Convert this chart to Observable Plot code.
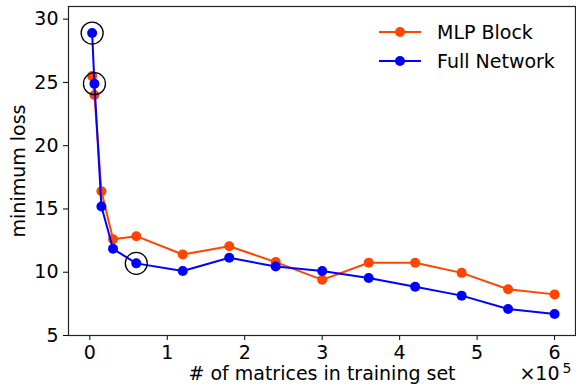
<!DOCTYPE html>
<html>
<head>
<meta charset="utf-8">
<script src="https://cdn.jsdelivr.net/npm/d3@7"></script>
<script src="https://cdn.jsdelivr.net/npm/@observablehq/plot@0.6"></script>
<style>
  html, body { margin: 0; padding: 0; background: white; }
  #chart svg, #chart svg text { font-family: "DejaVu Sans", sans-serif; }
</style>
</head>
<body>
<div id="chart"></div>
<script>
const trainSize = [3000, 6000, 15000, 30000, 60000, 120000, 180000, 240000, 300000, 360000, 420000, 480000, 540000, 600000];
const mlpBlock = [25.5, 24.0, 16.4, 12.6, 12.85, 11.4, 12.05, 10.8, 9.4, 10.75, 10.75, 9.95, 8.65, 8.25];
const fullNetwork = [28.9, 24.9, 15.2, 11.85, 10.7, 10.1, 11.15, 10.45, 10.1, 9.55, 8.85, 8.15, 7.1, 6.7];
const circledIdx = [0, 1, 4];
const xTicks = [0, 100000, 200000, 300000, 400000, 500000, 600000];
const yTicks = [5, 10, 15, 20, 25, 30];
const seriesNames = ["MLP Block", "Full Network"];
const colors = ["#ff4500", "#0000ff"];

const mlp = trainSize.map((x, i) => ({x, y: mlpBlock[i]}));
const full = trainSize.map((x, i) => ({x, y: fullNetwork[i]}));
const circled = circledIdx.map(i => full[i]);

const fs = 19;
const chart = Plot.plot({
  width: 576,
  height: 390,
  marginLeft: 68,
  marginRight: 1,
  marginTop: 6,
  marginBottom: 55,
  style: {fontFamily: "DejaVu Sans, sans-serif", background: "white", fontSize: fs + "px"},
  x: {domain: [-27500, 627000]},
  y: {domain: [5, 31]},
  marks: [
    Plot.axisX({ticks: xTicks, tickFormat: d => String(d / 1e5), tickSize: 5, tickPadding: 5, fontSize: fs, label: null, stroke: "black", color: "black"}),
    Plot.axisY({ticks: yTicks, tickSize: 5, tickPadding: 5, fontSize: fs, label: null, stroke: "black", color: "black"}),
    Plot.line(mlp, {x: "x", y: "y", stroke: colors[0], strokeWidth: 2}),
    Plot.dot(mlp, {x: "x", y: "y", r: 5, fill: colors[0], stroke: "none"}),
    Plot.line(full, {x: "x", y: "y", stroke: colors[1], strokeWidth: 2}),
    Plot.dot(full, {x: "x", y: "y", r: 5, fill: colors[1], stroke: "none"}),
    Plot.dot(circled, {x: "x", y: "y", r: 11, fill: "none", stroke: "black", strokeWidth: 1.3}),
    Plot.frame({stroke: "#222", strokeWidth: 1.2}),
    Plot.text(["# of matrices in training set"], {frameAnchor: "bottom", dy: 44, textAnchor: "middle", fontSize: fs, fill: "black"}),
    Plot.text(["minimum loss"], {frameAnchor: "left", dx: -50, rotate: -90, textAnchor: "middle", fontSize: fs, fill: "black"}),
    Plot.text(["×10"], {frameAnchor: "bottom-right", dx: -16, dy: 44, textAnchor: "end", fontSize: fs, fill: "black"}),
    Plot.text(["5"], {frameAnchor: "bottom-right", dx: -13, dy: 37, textAnchor: "start", fontSize: 14, fill: "black"})
  ]
});

// legend
const svg = d3.select(chart);
const lg = svg.append("g").attr("font-family", "DejaVu Sans, sans-serif").attr("font-size", fs).attr("text-anchor", "start");
seriesNames.forEach((name, i) => {
  const cy = 32 + i * 29;
  lg.append("line").attr("x1", 379).attr("x2", 421).attr("y1", cy).attr("y2", cy)
    .attr("stroke", colors[i]).attr("stroke-width", 2);
  lg.append("circle").attr("cx", 400).attr("cy", cy).attr("r", 5).attr("fill", colors[i]);
  lg.append("text").attr("x", 437).attr("y", cy).attr("dy", "0.36em").attr("fill", "black")
    .style("font-size", fs + "px").style("text-anchor", "start").text(name);
});

document.getElementById("chart").appendChild(chart);
</script>
</body>
</html>
